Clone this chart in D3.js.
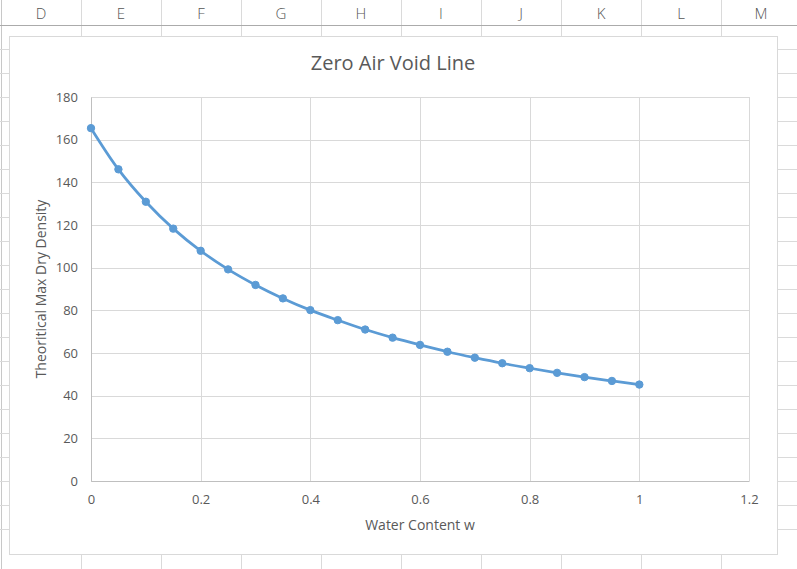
<!DOCTYPE html>
<html>
<head>
<meta charset="utf-8">
<script src="https://cdn.jsdelivr.net/npm/d3@7"></script>
<style>
  body { margin: 0; background: #fff; }
  svg { display: block; font-family: "Open Sans", "Liberation Sans", sans-serif; }
</style>
</head>
<body>
<div class="vis"></div>
<script>
// data
const waterContent = [0, 0.05, 0.1, 0.15, 0.2, 0.25, 0.3, 0.35, 0.4, 0.45, 0.5,
                      0.55, 0.6, 0.65, 0.7, 0.75, 0.8, 0.85, 0.9, 0.95, 1];
const dryDensity = [165.4, 146.1, 130.9, 118.3, 107.9, 99.2, 91.9, 85.6, 80.1, 75.4, 71.0,
                    67.2, 63.8, 60.6, 57.8, 55.2, 52.9, 50.7, 48.7, 46.9, 45.2];
const xTicks = [0, 0.2, 0.4, 0.6, 0.8, 1, 1.2];
const yTicks = [0, 20, 40, 60, 80, 100, 120, 140, 160, 180];
const columnLetters = ['D', 'E', 'F', 'G', 'H', 'I', 'J', 'K', 'L', 'M'];

const W = 797, H = 569;
const svg = d3.select('.vis').append('svg')
    .attr('width', W)
    .attr('height', H);

// spreadsheet behind the chart
const colW = 80, headerH = 25, rowH = 24;
const sheet = svg.append('g');
sheet.selectAll('.col')
    .data(d3.range(columnLetters.length + 1))
    .enter().append('line')
    .attr('x1', i => 1.5 + i * colW).attr('x2', i => 1.5 + i * colW)
    .attr('y1', 0).attr('y2', H)
    .attr('stroke', i => i === 0 ? '#c8c8c8' : '#dadada');
sheet.selectAll('.row')
    .data(d3.range(1, 23))
    .enter().append('line')
    .attr('x1', 0).attr('x2', W)
    .attr('y1', i => headerH + 0.5 + (i - 1) * rowH)
    .attr('y2', i => headerH + 0.5 + (i - 1) * rowH)
    .attr('stroke', i => i === 1 ? '#ababab' : '#dadada');
sheet.selectAll('.letter')
    .data(columnLetters)
    .enter().append('text')
    .attr('x', (d, i) => 41 + i * colW)
    .attr('y', 19)
    .attr('text-anchor', 'middle')
    .attr('font-size', 15)
    .attr('font-weight', 300)
    .attr('fill', '#555')
    .text(d => d);

// chart area
svg.append('rect')
    .attr('x', 9.5).attr('y', 36.5)
    .attr('width', 768).attr('height', 518)
    .attr('fill', '#fff')
    .attr('stroke', '#d9d9d9');

const margin = {left: 91, top: 97, right: 749, bottom: 481};
const x = d3.scaleLinear().domain([0, 1.2]).range([margin.left, margin.right]);
const y = d3.scaleLinear().domain([0, 180]).range([margin.bottom, margin.top]);

// gridlines
svg.append('g')
    .selectAll('line')
    .data(yTicks)
    .enter().append('line')
    .attr('x1', margin.left).attr('x2', margin.right)
    .attr('y1', d => Math.round(y(d)) + 0.5).attr('y2', d => Math.round(y(d)) + 0.5)
    .attr('stroke', '#d9d9d9');
svg.append('g')
    .selectAll('line')
    .data(xTicks)
    .enter().append('line')
    .attr('x1', d => Math.round(x(d)) + 0.5).attr('x2', d => Math.round(x(d)) + 0.5)
    .attr('y1', margin.top).attr('y2', margin.bottom)
    .attr('stroke', '#d9d9d9');

// axes
const xAxis = svg.append('g')
    .attr('transform', 'translate(0,' + margin.bottom + ')')
    .call(d3.axisBottom(x).tickValues(xTicks).tickSize(0).tickPadding(14).tickFormat(d3.format('')));
const yAxis = svg.append('g')
    .attr('transform', 'translate(' + margin.left + ',0)')
    .call(d3.axisLeft(y).tickValues(yTicks).tickSize(0).tickPadding(13));
[xAxis, yAxis].forEach(a => {
    a.select('.domain').attr('stroke', '#bfbfbf');
    a.selectAll('text').attr('fill', '#595959').attr('font-size', 13)
        .attr('font-family', '"Open Sans", sans-serif');
});

// title and axis titles
svg.append('text')
    .attr('x', 393).attr('y', 70)
    .attr('text-anchor', 'middle')
    .attr('font-size', 20)
    .attr('fill', '#595959')
    .text('Zero Air Void Line');
svg.append('text')
    .attr('x', 420).attr('y', 530)
    .attr('text-anchor', 'middle')
    .attr('font-size', 14)
    .attr('fill', '#595959')
    .text('Water Content w');
svg.append('text')
    .attr('transform', 'translate(46,289) rotate(-90)')
    .attr('text-anchor', 'middle')
    .attr('font-size', 14)
    .attr('fill', '#595959')
    .text('Theoritical Max Dry Density');

// series
const points = waterContent.map((w, i) => ({w: w, d: dryDensity[i]}));
const line = d3.line()
    .x(p => x(p.w))
    .y(p => y(p.d))
    .curve(d3.curveCatmullRom.alpha(0.5));
svg.append('path')
    .datum(points)
    .attr('d', line)
    .attr('fill', 'none')
    .attr('stroke', '#5b9bd5')
    .attr('stroke-width', 2.75)
    .attr('stroke-linecap', 'round');
svg.selectAll('.dot')
    .data(points)
    .enter().append('circle')
    .attr('cx', p => x(p.w))
    .attr('cy', p => y(p.d))
    .attr('r', 3.7)
    .attr('fill', '#5b9bd5')
    .attr('stroke', '#5b9bd5');
</script>
</body>
</html>
